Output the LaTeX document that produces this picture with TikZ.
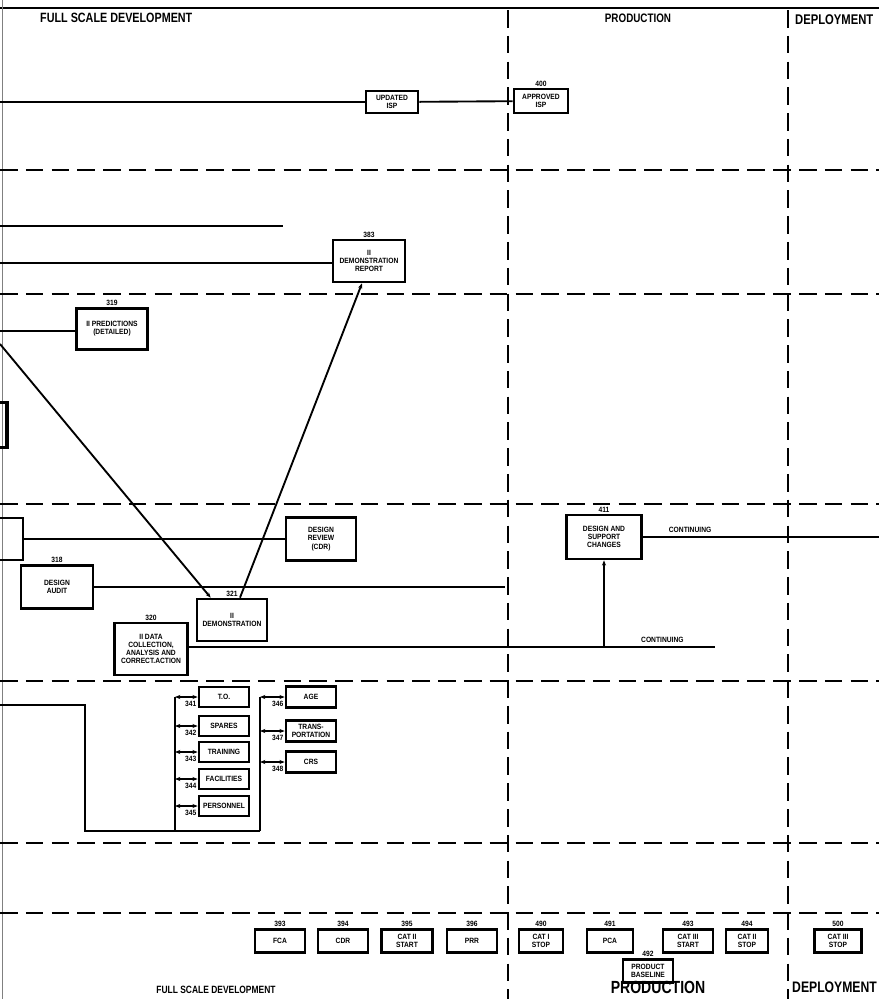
\documentclass[tikz,border=0pt]{standalone}
\usepackage{fontspec}
\newfontfamily\chartfont[FakeStretch=0.8]{Liberation Sans}
\newfontfamily\boxfont[FakeStretch=0.88]{Liberation Sans}
\usetikzlibrary{arrows.meta}

\begin{document}
\begin{tikzpicture}[
  x=0.03cm, y=-0.03cm,
  >={Stealth[length=4.5pt,width=3.5pt]},
  blk/.style={draw, line width=2.3pt, rectangle, inner sep=1pt, align=center,
    font=\boxfont\bfseries\fontsize{6.5}{7}\selectfont},
  sz/.style 2 args={minimum width=#1*0.03cm, minimum height=#2*0.03cm},
  num/.style={font=\boxfont\bfseries\fontsize{6.5}{7}\selectfont, inner sep=1pt},
  phase/.style={line width=2.2pt, dash pattern=on 15pt off 7pt},
  flow/.style={line width=1.6pt},
  hdr/.style={font=\chartfont\bfseries\fontsize{#1}{#1}\selectfont, inner sep=0pt},
]
\useasboundingbox (0,0) rectangle (879,999);

% frame: top rule and left edge
\draw[line width=2.5pt] (0,8) -- (879,8);
\draw[line width=0.8pt, gray] (2,0) -- (2,999);

% phase boundaries
\foreach \y in {170,294,504,681,843,913}
  \draw[phase] (0,\y) -- (879,\y);
\draw[phase] (508,10) -- (508,999);
\draw[phase] (788,10) -- (788,999);

% phase titles
\node[hdr=11.5, anchor=west] (fsdtop) at (40,18) {FULL SCALE DEVELOPMENT};
\node[hdr=10.5] (prodtop) at (638,18) {PRODUCTION};
\node[hdr=12, anchor=west] (deptop) at (795,20) {DEPLOYMENT};
\node[hdr=9] (fsdbot) at (216,990) {FULL SCALE DEVELOPMENT};
\node[hdr=15] (prodbot) at (658,987) {PRODUCTION};
\node[hdr=13, anchor=west] (depbot) at (792,987) {DEPLOYMENT};

% --- row 1 ---
\node[blk, sz={52}{22}] (sdp) at (392,102) {UPDATED\\ISP};
\node[blk, sz={54}{24}, label={[num]above:400}] (scp) at (541,101) {APPROVED\\ISP};
\coordinate (r1in) at (0,102);
\draw[flow] (r1in) -- (sdp);
\draw[flow] (sdp) -- (scp);

% --- row 2 ---
\node[blk, sz={72}{42}, label={[num]above:383}] (rep) at (369,261)
  {II\\DEMONSTRATION\\REPORT};
\coordinate (r2a) at (0,226);
\coordinate (r2aend) at (283,226);
\draw[flow] (r2a) -- (r2aend);
\coordinate (r2b) at (0,263);
\draw[flow] (r2b) -- (r2b -| rep.west);

% --- row 3 ---
\node[blk, sz={71}{41}, label={[num]above:319}] (pred) at (112,329)
  {II PREDICTIONS\\(DETAILED)};
\coordinate (r3in) at (0,331);
\draw[flow] (r3in) -- (r3in -| pred.west);
\node[draw, line width=2.8pt, sz={50}{45}] (offl) at (-18,425) {};

% --- row 4 ---
\node[draw, line width=2.3pt, sz={50}{42}] (cdrin) at (-2,539) {};
\node[blk, sz={70}{43}] (cdr) at (321,539) {DESIGN\\REVIEW\\(CDR)};
\draw[flow] (cdrin) -- (cdr);
\node[blk, sz={72}{43}, label={[num]above:318}] (audit) at (57,587) {DESIGN\\AUDIT};
\coordinate (auditend) at (505,587);
\draw[flow] (audit) -- (auditend);
\node[blk, sz={70}{42}, label={[num]above:321}] (demo) at (232,620)
  {II\\DEMONSTRATION};
\node[blk, sz={73}{52}, label={[num]above:320}] (data) at (151,649)
  {II DATA\\COLLECTION,\\ANALYSIS AND\\CORRECT.ACTION};
\coordinate (dataend) at (715,647);
\draw[flow] (data.east |- dataend) -- (dataend)
  node[num, pos=0.9, above=2pt] {CONTINUING};
\node[blk, sz={75}{44}, label={[num]above:411}] (chg) at (604,537)
  {DESIGN AND\\SUPPORT\\CHANGES};
\coordinate (chgend) at (879,537);
\draw[flow] (chg) -- (chgend) node[num, pos=0.2, above=2pt] {CONTINUING};
\draw[flow, ->] (chg.south |- dataend) -- (chg.south);

% demonstration links
\coordinate (dstart) at (0,344);
\draw[flow, ->] (dstart) -- ([xshift=0.45cm]demo.north west);
\draw[flow, ->] ([xshift=0.24cm]demo.north) -- ([xshift=-0.21cm]rep.south);

% --- row 5: support elements ---
\coordinate (lv) at (175,831);
\coordinate (rv) at (260,831);
\draw[flow] (0,705) -- (85,705) -- (85,831) -- (rv);
\draw[flow] (lv) -- (175,697);
\draw[flow] (rv) -- (260,697);
\node[blk, sz={50}{20}, label={[num,anchor=north east,yshift=-2pt]west:341}] (tdo) at (224,697) {T.O.};
\node[blk, sz={50}{20}, label={[num,anchor=north east,yshift=-2pt]west:342}] (spares) at (224,726) {SPARES};
\node[blk, sz={50}{20}, label={[num,anchor=north east,yshift=-2pt]west:343}] (train) at (224,752) {TRAINING};
\node[blk, sz={50}{20}, label={[num,anchor=north east,yshift=-2pt]west:344}] (facil) at (224,779) {FACILITIES};
\node[blk, sz={50}{20}, label={[num,anchor=north east,yshift=-2pt]west:345}] (pers) at (224,806) {PERSONNEL};
\foreach \n in {tdo,spares,train,facil,pers}
  \draw[flow, <->] (\n.west -| lv) -- (\n.west);
\node[blk, sz={50}{21}, label={[num,anchor=north east,yshift=-2pt]west:346}] (age) at (311,697) {AGE};
\node[blk, sz={50}{21}, label={[num,anchor=north east,yshift=-2pt]west:347}] (trans) at (311,731) {TRANS-\\PORTATION};
\node[blk, sz={50}{21}, label={[num,anchor=north east,yshift=-2pt]west:348}] (crs) at (311,762) {CRS};
\foreach \n in {age,trans,crs}
  \draw[flow, <->] (\n.west -| rv) -- (\n.west);

% --- row 7: milestones ---
\node[blk, sz={50}{23}, label={[num]above:393}] (fca) at (280,941) {FCA};
\node[blk, sz={50}{23}, label={[num]above:394}] (cdrm) at (343,941) {CDR};
\node[blk, sz={51}{23}, label={[num]above:395}] (cat2s) at (407,941) {CAT II\\START};
\node[blk, sz={50}{23}, label={[num]above:396}] (prr) at (472,941) {PRR};
\node[blk, sz={44}{23}, label={[num]above:490}] (cat1) at (541,941) {CAT I\\STOP};
\node[blk, sz={46}{23}, label={[num]above:491}] (pca) at (610,941) {PCA};
\node[blk, sz={50}{23}, label={[num]above:492}] (base) at (648,971) {PRODUCT\\BASELINE};
\node[blk, sz={50}{23}, label={[num]above:493}] (cat3s) at (688,941) {CAT III\\START};
\node[blk, sz={42}{23}, label={[num]above:494}] (cat2) at (747,941) {CAT II\\STOP};
\node[blk, sz={47}{23}, label={[num]above:500}] (cat3) at (838,941) {CAT III\\STOP};
\end{tikzpicture}
\end{document}
